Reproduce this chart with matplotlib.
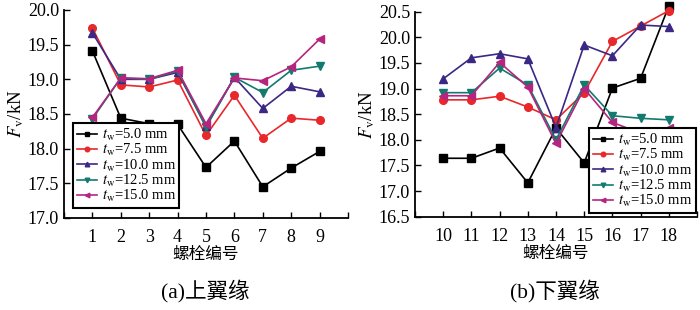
import matplotlib
matplotlib.use("Agg")
import matplotlib.pyplot as plt

plt.rcParams['font.family'] = ['Liberation Serif', 'Noto Sans CJK SC', 'DejaVu Sans']
plt.rcParams['mathtext.fontset'] = 'stix'

# ---- data ----
bolts_upper = [1, 2, 3, 4, 5, 6, 7, 8, 9]
bolts_lower = [10, 11, 12, 13, 14, 15, 16, 17, 18]
labels = [r'$t_\mathrm{w}$=5.0 mm', r'$t_\mathrm{w}$=7.5 mm', r'$t_\mathrm{w}$=10.0 mm',
          r'$t_\mathrm{w}$=12.5 mm', r'$t_\mathrm{w}$=15.0 mm']

upper_t5 = [19.41, 18.44, 18.36, 18.35, 17.73, 18.11, 17.45, 17.72, 17.96]
upper_t75 = [19.74, 18.92, 18.89, 18.99, 18.19, 18.77, 18.15, 18.44, 18.41]
upper_t10 = [19.67, 19.00, 19.00, 19.10, 18.32, 19.03, 18.58, 18.90, 18.82]
upper_t125 = [18.43, 19.02, 19.00, 19.12, 18.31, 19.03, 18.81, 19.13, 19.19]
upper_t15 = [18.45, 19.02, 19.01, 19.13, 18.36, 19.02, 18.98, 19.18, 19.58]

lower_t5 = [17.64, 17.64, 17.84, 17.16, 18.23, 17.55, 19.01, 19.20, 20.61]
lower_t75 = [18.78, 18.78, 18.85, 18.64, 18.39, 18.92, 19.92, 20.22, 20.52]
lower_t10 = [19.19, 19.60, 19.68, 19.58, 18.24, 19.85, 19.64, 20.24, 20.21]
lower_t125 = [18.92, 18.92, 19.40, 19.07, 18.00, 19.07, 18.47, 18.42, 18.39]
lower_t15 = [18.86, 18.86, 19.51, 19.03, 17.93, 19.00, 18.34, 18.13, 18.23]

colors = ['#000000', '#e8282a', '#3b2784', '#127a6e', '#b5247e']
markers = ['s', 'o', '^', 'v', '<']

fig = plt.figure(figsize=(7.0, 3.1), dpi=100)
ax1 = fig.add_axes([64/700, 1-218/310, 284/700, 208/310])
ax2 = fig.add_axes([415/700, 1-216.7/310, 282/700, 205/310])


def draw(ax, x, series, xlim, ylim, yticks, legend_loc, legend_anchor):
    for s, c, m, lab in zip(series, colors, markers, labels):
        ax.plot(x, s, color=c, marker=m, markersize=5.5, linewidth=1.2,
                label=lab, clip_on=False, zorder=3)
    ax.set_xlim(*xlim)
    ax.set_ylim(*ylim)
    xt = list(range(xlim[0], xlim[1] + 1))
    ax.set_xticks(xt)
    ax.set_xticklabels(['' if (v < x[0] or v > x[-1]) else str(v) for v in xt])
    ax.set_yticks(yticks)
    ax.set_yticklabels(['%.1f' % v for v in yticks])
    for sp in ['top', 'right']:
        ax.spines[sp].set_visible(False)
    for sp in ['left', 'bottom']:
        ax.spines[sp].set_linewidth(1.3)
    ax.tick_params(direction='in', length=4, width=1.0, labelsize=13)
    ax.tick_params(axis='x', pad=8)
    ax.set_ylabel(r'$F_\mathrm{v}$/kN', fontsize=13.5, labelpad=1)
    ax.set_xlabel('螺栓编号', fontsize=12, family=['Noto Sans CJK SC'], labelpad=0)
    leg = ax.legend(loc=legend_loc, bbox_to_anchor=legend_anchor, fontsize=10.5,
                    handlelength=1.4, handletextpad=0.3, markerscale=0.6,
                    labelspacing=-0.05, borderpad=0.25, borderaxespad=0,
                    fancybox=False, framealpha=1, edgecolor='black')
    leg.get_frame().set_linewidth(1.5)


draw(ax1, bolts_upper, [upper_t5, upper_t75, upper_t10, upper_t125, upper_t15],
     (0, 10), (17.0, 20.0), [17.0, 17.5, 18.0, 18.5, 19.0, 19.5, 20.0],
     'lower left', (0.032, 0.048))
draw(ax2, bolts_lower, [lower_t5, lower_t75, lower_t10, lower_t125, lower_t15],
     (9, 19), (16.5, 20.5), [16.5, 17.0, 17.5, 18.0, 18.5, 19.0, 19.5, 20.0, 20.5],
     'lower right', (0.995, 0.018))

fig.text(205/700, 1-291/310, '(a)上翼缘', ha='center', va='center', fontsize=15.5,
         family=['Liberation Serif', 'Noto Sans CJK SC'])
fig.text(555/700, 1-291/310, '(b)下翼缘', ha='center', va='center', fontsize=15.5,
         family=['Liberation Serif', 'Noto Sans CJK SC'])

fig.savefig('out.png', dpi=100)
